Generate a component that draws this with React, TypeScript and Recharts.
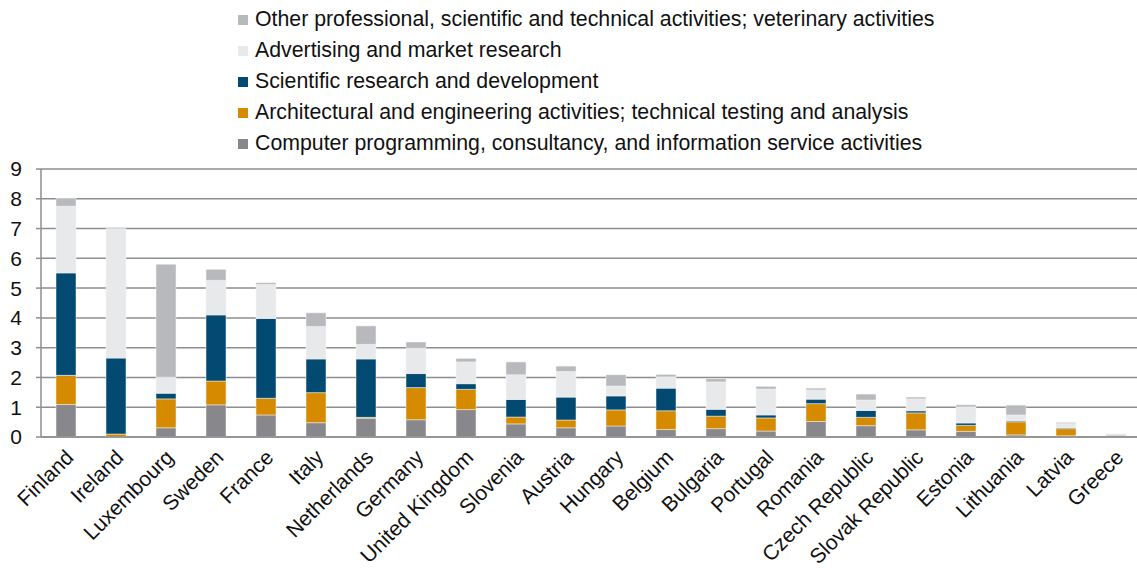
import React from 'react';
import { BarChart, Bar, XAxis, YAxis, CartesianGrid, Legend } from 'recharts';

const countries = [
  'Finland', 'Ireland', 'Luxembourg', 'Sweden', 'France', 'Italy', 'Netherlands', 'Germany',
  'United Kingdom', 'Slovenia', 'Austria', 'Hungary', 'Belgium', 'Bulgaria', 'Portugal', 'Romania',
  'Czech Republic', 'Slovak Republic', 'Estonia', 'Lithuania', 'Latvia', 'Greece',
];
const computing = [1.09, 0, 0.31, 1.08, 0.74, 0.48, 0.63, 0.58, 0.92, 0.44, 0.31, 0.37, 0.25, 0.28, 0.2, 0.52, 0.38, 0.24, 0.19, 0.07, 0.04, 0.06];
const architecture = [0.98, 0.1, 0.97, 0.8, 0.56, 1.01, 0.03, 1.08, 0.68, 0.23, 0.26, 0.54, 0.63, 0.42, 0.44, 0.6, 0.28, 0.57, 0.2, 0.44, 0.24, 0.01];
const research = [3.44, 2.55, 0.19, 2.22, 2.68, 1.13, 1.96, 0.47, 0.19, 0.59, 0.77, 0.47, 0.76, 0.23, 0.1, 0.15, 0.23, 0.07, 0.08, 0.03, 0.03, 0];
const advertising = [2.24, 4.35, 0.54, 1.16, 1.14, 1.09, 0.49, 0.85, 0.73, 0.83, 0.86, 0.33, 0.38, 0.92, 0.87, 0.31, 0.35, 0.4, 0.54, 0.2, 0.14, 0.01];
const otherActivities = [0.26, 0, 3.79, 0.37, 0.06, 0.46, 0.62, 0.21, 0.12, 0.43, 0.18, 0.38, 0.08, 0.11, 0.09, 0.06, 0.2, 0.06, 0.07, 0.33, 0.04, 0.02];
const yTicks = [0, 1, 2, 3, 4, 5, 6, 7, 8, 9];

// stacking order, bottom to top
const series = [
  { key: 'computing', name: 'Computer programming, consultancy, and information service activities', color: '#88878c' },
  { key: 'architecture', name: 'Architectural and engineering activities; technical testing and analysis', color: '#d68a00' },
  { key: 'research', name: 'Scientific research and development', color: '#024a72' },
  { key: 'advertising', name: 'Advertising and market research', color: '#e8e9eb' },
  { key: 'other', name: 'Other professional, scientific and technical activities; veterinary activities', color: '#b8b9bc' },
];

const data = countries.map((country, i) => ({
  country,
  computing: computing[i],
  architecture: architecture[i],
  research: research[i],
  advertising: advertising[i],
  other: otherActivities[i],
}));

// category boundaries, for Excel-style tick marks between bars
const edgeTicks = Array.from({ length: countries.length + 1 }, (_, i) => i);

const FONT = '"Liberation Sans", Arial, sans-serif';
const GRID = '#8e8e8e';

const CountryTick = ({ x, y, payload }: any) => (
  <g transform={`translate(${x - 2},${y - 3})`}>
    <text transform="rotate(-45)" textAnchor="end" dy="0.72em" fontSize={21} fill="#111" fontFamily={FONT}>
      {payload.value}
    </text>
  </g>
);

const LegendList = () => (
  <div style={{ fontFamily: FONT, fontSize: 21.3, color: '#111', paddingBottom: 10 }}>
    {[...series].reverse().map(s => (
      <div key={s.key} style={{ display: 'flex', alignItems: 'center', height: 31, whiteSpace: 'nowrap' }}>
        <span style={{ display: 'inline-block', width: 10, height: 10, background: s.color, marginRight: 7 }} />
        {s.name}
      </div>
    ))}
  </div>
);

export default function App() {
  return (
    <div style={{ position: 'absolute', left: 0, top: 0, width: 1137, height: 570, overflow: 'hidden', background: '#fff' }}>
      <BarChart
        width={1141}
        height={570}
        data={data}
        barCategoryGap="30%"
        margin={{ top: 4, right: 0, bottom: 0, left: 0 }}
      >
        <Legend
          verticalAlign="top"
          align="left"
          wrapperStyle={{ left: 238, top: 4, width: 900 }}
          content={<LegendList />}
        />
        <CartesianGrid xAxisId="names" vertical={false} stroke={GRID} strokeWidth={1.5} />
        <YAxis
          domain={[0, 9]}
          ticks={yTicks}
          interval={0}
          width={41}
          tickSize={5}
          tickMargin={14}
          tick={{ fontSize: 21, fill: '#111', fontFamily: FONT }}
          axisLine={{ stroke: GRID, strokeWidth: 1.5 }}
          tickLine={{ stroke: GRID, strokeWidth: 1.5 }}
        />
        <XAxis
          xAxisId="base"
          type="number"
          domain={[0, countries.length]}
          ticks={edgeTicks}
          interval={0}
          allowDataOverflow
          tick={false}
          tickSize={5}
          height={6}
          axisLine={{ stroke: GRID, strokeWidth: 1.5 }}
          tickLine={{ stroke: GRID, strokeWidth: 1.5 }}
        />
        <XAxis
          xAxisId="names"
          dataKey="country"
          interval={0}
          height={127}
          axisLine={false}
          tickLine={false}
          tick={<CountryTick />}
        />
        {series.map(s => (
          <Bar
            key={s.key}
            xAxisId="names"
            dataKey={s.key}
            name={s.name}
            stackId="a"
            fill={s.color}
            stroke="#f4f4f4"
            strokeWidth={0.5}
            isAnimationActive={false}
          />
        ))}
      </BarChart>
    </div>
  );
}
